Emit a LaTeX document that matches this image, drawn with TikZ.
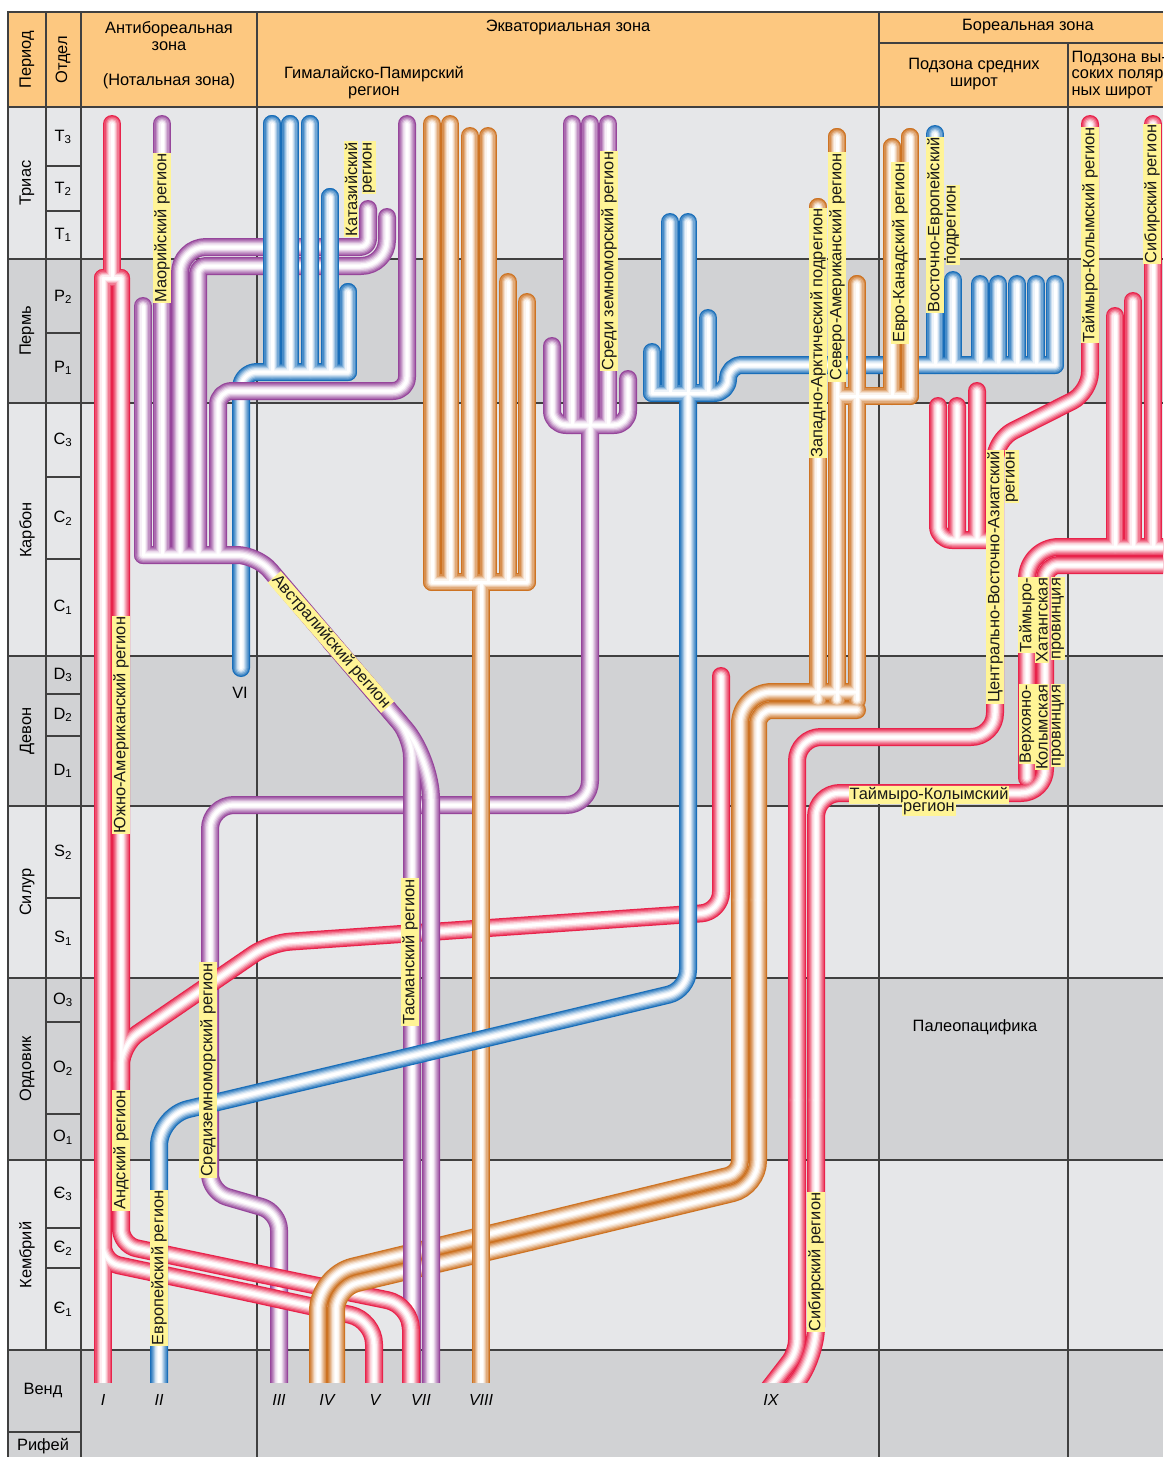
\documentclass[tikz,border=0pt]{standalone}
\usepackage{fontspec}
\setmainfont{Liberation Sans}
\usepackage{xcolor}
\usepackage{tikz}
\usetikzlibrary{positioning}

\definecolor{tred}{RGB}{232,35,75}
\definecolor{tblue}{RGB}{25,110,185}
\definecolor{tpurple}{RGB}{150,70,155}
\definecolor{torange}{RGB}{205,115,35}
\definecolor{tyellow}{RGB}{255,244,150}
\definecolor{hdrbg}{RGB}{253,200,128}
\definecolor{bglight}{RGB}{230,231,233}
\definecolor{bgdark}{RGB}{209,210,212}

\tikzset{
  grid/.style={draw=black!75, line width=1.2pt},
  tube/.style={draw=tubecol, line width=\tw pt, line cap=round, line join=round, rounded corners=14pt},
  lbl/.style={fill=tyellow, inner sep=0.8pt, text=black!90},
  vlbl/.style={lbl, rotate=90},
  numlbl/.style={font=\fontsize{16}{16}\selectfont\itshape}
}

% ống: vẽ từng lớp từ ngoài vào trong
\newcommand{\tube}[2]{%
  \foreach \tw/\tp in {18/100,15.5/80,13/60,10.5/40,8/22,5.5/8,3/0}{%
    \colorlet{tubecol}{#1!\tp!white}#2}}

\newcommand{\pathmed}{% III
  \draw[tube] (552,346) -- (552,425) -- (628,425) -- (628,379);
  \foreach \xx in {572,590,608} \draw[tube] (\xx,124) -- (\xx,425);
  \draw[tube, rounded corners=24pt] (590,425) -- (590,805) -- (210,805) -- (210,1100);
  \draw[tube, rounded corners=18pt] (210,1100) -- (210,1192) -- (279,1212) -- (279,1400);}

\newcommand{\pathsouth}{% I, V, VII
  \draw[tube] (112,124) -- (112,278) (103,278) -- (121,278);
  \draw[tube] (103,278) -- (103,1400);
  \draw[tube, rounded corners=16pt] (121,278) -- (121,1245) -- (250,1272);
  \draw[tube, rounded corners=24pt] (250,1272) -- (411,1305) -- (411,1400);
  \draw[tube, rounded corners=16pt] (103,1200) -- (103,1262) -- (250,1293);
  \draw[tube, rounded corners=24pt] (250,1293) -- (374,1320) -- (374,1400);
  \draw[tube, rounded corners=20pt] (121,1080) -- (121,1045) -- (270,943) -- (721,912) -- (721,676);}

\newcommand{\pathna}{% IV
  \draw[tube] (818,207) -- (818,700) (837,137) -- (837,700) (857,284) -- (857,700);
  \draw[tube] (892,147) -- (892,396) (910,137) -- (910,396) (840,396) -- (910,396);
  \draw[tube, rounded corners=32pt] (857,692) -- (740,692) -- (740,900);
  \draw[tube, rounded corners=12pt] (740,900) -- (740,1173) -- (530,1224);
  \draw[tube, rounded corners=36pt] (530,1224) -- (318,1275) -- (318,1400);
  \draw[tube] (857,710) -- (758,710) -- (758,900);
  \draw[tube, rounded corners=26pt] (758,900) -- (758,1187) -- (530,1242);
  \draw[tube, rounded corners=22pt] (530,1242) -- (336,1288) -- (336,1400);}

\newcommand{\pathhim}{% VIII
  \foreach \xx/\yy in {432/124,450/124,470/136,488/136,508/282,527/302}
    \draw[tube] (\xx,\yy) -- (\xx,582);
  \draw[tube] (432,582) -- (527,582) (481,582) -- (481,1400);}

\newcommand{\pathkat}{% VI
  \foreach \xx/\yy in {272/124,290/124,310/124,330/197,348/292}
    \draw[tube] (\xx,\yy) -- (\xx,372);
  \draw[tube, rounded corners=16pt] (241,668) -- (241,372) -- (348,372);}

\newcommand{\pathmaori}{% Маорийский ... Тасманский
  \draw[tube] (143,306) -- (143,555) (162,124) -- (162,555);
  \draw[tube, rounded corners=26pt] (180,555) -- (180,247) -- (300,247);
  \draw[tube, rounded corners=8pt] (300,247) -- (368,247) -- (368,209);
  \draw[tube, rounded corners=8pt] (198,555) -- (198,266) -- (300,266);
  \draw[tube, rounded corners=26pt] (300,266) -- (387,266) -- (387,217);
  \draw[tube] (218,555) -- (218,391) -- (407,391) -- (407,124);
  \draw[tube, rounded corners=20pt] (143,555) -- (257,555) -- (412,737) -- (412,1400);
  \draw[tube, rounded corners=40pt] (330,641) -- (431,759) -- (431,1400);}

\newcommand{\patheur}{% II
  \foreach \xx/\yy in {652/352,670/222,688/222,708/318}
    \draw[tube] (\xx,\yy) -- (\xx,393);
  \draw[tube] (652,393) -- (708,393);
  \draw[tube] (700,393) -- (728,393) -- (728,365) -- (1055,365);
  \foreach \xx/\yy in {935/134,953/280,980/284,998/284,1017/284,1036/284,1055/284}
    \draw[tube] (\xx,\yy) -- (\xx,365);
  \draw[tube, rounded corners=20pt] (688,393) -- (688,990) -- (420,1054);
  \draw[tube, rounded corners=30pt] (420,1054) -- (159,1116) -- (159,1400);}

\newcommand{\pathsib}{% IX
  \draw[tube, rounded corners=20pt] (1090,124) -- (1090,392) -- (995,440) -- (995,600);
  \draw[tube] (938,406) -- (938,540) -- (995,540) (957,406) -- (957,540) (977,391) -- (977,540);
  \draw[tube, rounded corners=24pt] (995,600) -- (995,737) -- (797,737) -- (797,1100);
  \draw[tube, rounded corners=12pt] (797,1100) -- (797,1352) -- (760,1400);
  \foreach \xx/\yy in {1153/124,1133/301,1115/316}
    \draw[tube] (\xx,\yy) -- (\xx,547);
  \draw[tube, rounded corners=32pt] (1175,547) -- (1027,547) -- (1027,778);
  \draw[tube] (1175,565) -- (1045,565) -- (1045,700);
  \draw[tube, rounded corners=24pt] (1045,700) -- (1045,793) -- (816,793) -- (816,1100);
  \draw[tube, rounded corners=30pt] (816,1100) -- (816,1357) -- (779,1405);}

\begin{document}
\begin{tikzpicture}[x=1pt, y=-1pt, font=\fontsize{16.4}{16.8}\selectfont]
    \useasboundingbox (0,0) rectangle (1163,1457);
    \clip (0,0) rectangle (1163,1457);

    % 1. Nền và lưới
    \fill[white] (0,0) rectangle (1163,1457);
    \fill[hdrbg] (8,12) rectangle (1163,107);
    \foreach \ya/\yb/\c in {107/259/bglight,259/403/bgdark,403/656/bglight,656/806/bgdark,
                            806/978/bglight,978/1160/bgdark,1160/1350/bglight,1350/1457/bgdark}
        \fill[\c] (8,\ya) rectangle (1163,\yb);
    \draw[grid] (1163,12) -- (8,12) -- (8,1457);
    \foreach \y in {107,259,403,656,806,978,1160,1350}
        \draw[grid] (8,\y) -- (1163,\y);
    \foreach \x in {81,257,879}
        \draw[grid] (\x,12) -- (\x,1457);
    \draw[grid] (46,12) -- (46,1350);
    \draw[grid] (879,43) -- (1163,43);
    \draw[grid] (1068,43) -- (1068,1457);
    \draw[grid] (8,1432) -- (81,1432);
    \foreach \y in {166,211,333,477,559,694,736,898,1022,1114,1228,1268}
        \draw[grid] (46,\y) -- (81,\y);

    % 2. Tiêu đề
    \node[rotate=90] (period) at (27,60) {Период};
    \node[rotate=90] (otdel) at (63,60) {Отдел};
    \node[align=center] (antib) at (169,36) {Антибореальная\\зона};
    \node (notal) at (169,81) {(Нотальная зона)};
    \node (equat) at (568,27) {Экваториальная зона};
    \node[align=center] (himal) at (374,83) {Гималайско-Памирский\\регион};
    \node (boreal) at (1028,27) {Бореальная зона};
    \node[align=center] (midlat) at (974,74) {Подзона средних\\широт};
    \node[align=left, anchor=west] (highlat) at (1068,75) {Подзона вы-\\соких поляр-\\ных широт};

    % 3. Периоды и отделы
    \foreach \p/\yy [count=\i] in {Триас/183,Пермь/331,Карбон/530,Девон/731,Силур/892,Ордовик/1069,Кембрий/1255}
        \node[rotate=90] (per\i) at (27,\yy) {\p};
    \node (vend) at (43,1390) {Венд};
    \node (rifei) at (43,1446) {Рифей};
    \foreach \e/\s/\yy [count=\i] in {T/3/137,T/2/189,T/1/235,P/2/297,P/1/368,C/3/440,C/2/518,C/1/607,
                                     D/3/675,D/2/715,D/1/771,S/2/852,S/1/938,O/3/1000,O/2/1068,O/1/1137,
                                     Є/3/1194,Є/2/1248,Є/1/1309}
        \node (ep\i) at (63,\yy) {\e\textsubscript{\s}};

    % 4. Các nhánh
    \begin{scope}
        \clip (0,0) rectangle (1163,1382);
        \tube{tpurple}{\pathmed}
        \tube{tred}{\pathsouth}
        \tube{torange}{\pathna}
        \tube{torange}{\pathhim}
        \tube{tblue}{\pathkat}
        \tube{tpurple}{\pathmaori}
        \tube{tblue}{\patheur}
        \begin{scope}
            \clip (256,100) rectangle (358,335);
            \tube{tblue}{\pathkat}
        \end{scope}
        \begin{scope}
            \clip (805,100) rectangle (921,420);
            \tube{torange}{\pathna}
        \end{scope}
        \begin{scope}
            \clip (401,1288) rectangle (421,1400);
            \tube{tred}{\pathsouth}
        \end{scope}
        \tube{tred}{\pathsib}
    \end{scope}

    % 5. Nhãn
    \node[vlbl] (lmaori) at (162,228) {Маорийский регион};
    \node[vlbl, anchor=east] (lkat1) at (351,141) {Катазийский};
    \node[vlbl, anchor=east] (lkat2) at (369,141) {регион};
    \node[vlbl] (lmed) at (609,261) {Среди земноморский регион};
    \node[vlbl] (lwarc) at (818,333) {Западно-Арктический подрегион};
    \node[vlbl] (lnam) at (837,267) {Северо-Американский регион};
    \node[vlbl] (leucan) at (900,253) {Евро-Канадский регион};
    \node[vlbl] (leeur1) at (935,225) {Восточно-Европейский};
    \node[vlbl] (leeur2) at (953,225) {подрегион};
    \node[vlbl] (ltkol) at (1090,235) {Таймыро-Колымский регион};
    \node[vlbl] (lsib1) at (1152,194) {Сибирский регион};
    \node[vlbl, anchor=east] (lcea1) at (995,450) {Центрально-Восточно-Азиатский};
    \node[vlbl, anchor=east] (lcea2) at (1012,450) {регион};
    \node[vlbl, anchor=east] (ltkh1) at (1027,577) {Таймыро-};
    \node[vlbl, anchor=east] (ltkh2) at (1042,577) {Хатангская};
    \node[vlbl, anchor=east] (ltkh3) at (1058,577) {провинция};
    \node[vlbl, anchor=east] (lvk1) at (1027,684) {Верхояно-};
    \node[vlbl, anchor=east] (lvk2) at (1042,684) {Колымская};
    \node[vlbl, anchor=east] (lvk3) at (1058,684) {провинция};
    \node[lbl] (ltk1) at (929,795) {Таймыро-Колымский};
    \node[lbl, below=-2pt of ltk1] (ltk2) {регион};
    \node[vlbl] (lsam) at (121,725) {Южно-Американский регион};
    \node[vlbl] (land) at (121,1150) {Андский регион};
    \node[vlbl] (leur) at (159,1268) {Европейский регион};
    \node[vlbl] (lmedt) at (208,1070) {Средиземноморский регион};
    \node[lbl, rotate=-49] (laus) at (331,642) {Австралийский регион};
    \node[vlbl] (ltas) at (410,952) {Тасманский регион};
    \node[vlbl] (lsib2) at (816,1262) {Сибирский регион};
    \node (paleo) at (975,1027) {Палеопацифика};
    \node (numVI) at (240,693) {VI};
    \foreach \r/\xx in {I/103,II/159,III/279,IV/327,V/375,VII/421,VIII/481,IX/771}
        \node[numlbl] (num\r) at (\xx,1400) {\r};
\end{tikzpicture}
\end{document}
